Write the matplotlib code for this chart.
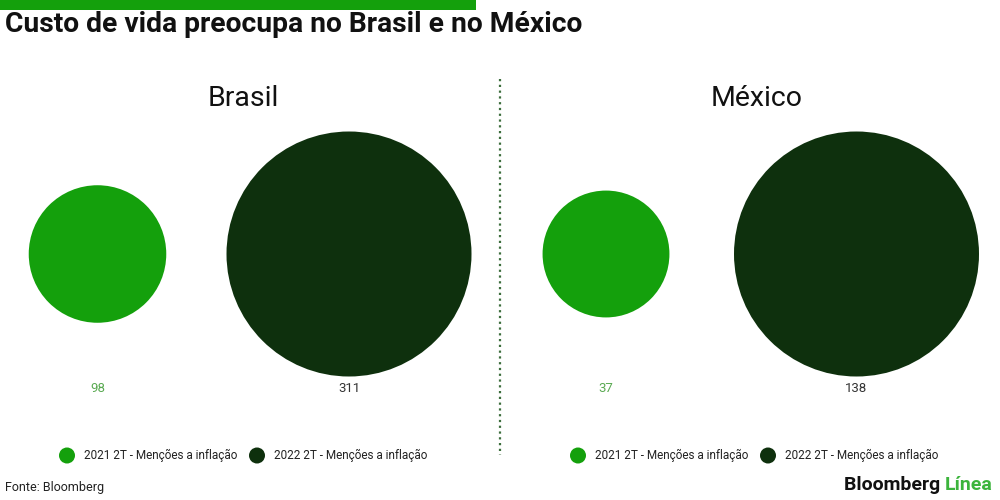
import matplotlib
matplotlib.use("Agg")
import matplotlib.pyplot as plt
from matplotlib.patches import Circle, Rectangle
import numpy as np

# ---- data ----
title = "Custo de vida preocupa no Brasil e no México"
panels = ["Brasil", "México"]
series = ["2021 2T - Menções a inflação", "2022 2T - Menções a inflação"]
brasil_values = [98, 311]
mexico_values = [37, 138]
source = "Fonte: Bloomberg"

LIGHT = "#14a00c"
DARK = "#0e300d"

fig = plt.figure(figsize=(10, 5), dpi=100)
ax = fig.add_axes([0, 0, 1, 1])
ax.set_xlim(0, 1000)
ax.set_ylim(500, 0)
ax.set_aspect("equal")
ax.axis("off")

# top green bar
ax.add_patch(Rectangle((0, 0), 476, 9.5, color=LIGHT, lw=0))

ax.text(5, 24, title, fontsize=20.3, fontweight="bold", family="Roboto",
        color="#111111", va="center", ha="left")

# dotted divider
ax.plot([500, 500], [79, 455], ls=(0, (1, 1.6)), color="#3d6e3d", lw=1.6)

RMAX = 122.5
layout = [
    dict(values=brasil_values, title_x=243, xs=[97.5, 349]),
    dict(values=mexico_values, title_x=757, xs=[606, 856.5]),
]
cy = 254
colors = [LIGHT, DARK]
label_colors = ["#5aaa52", "#333333"]

for name, lay in zip(panels, layout):
    vals = np.array(lay["values"], dtype=float)
    radii = RMAX * np.sqrt(vals / vals.max())
    ax.text(lay["title_x"], 99, name, fontsize=20.5, family="Roboto",
            fontweight="normal", color="#111111", ha="center", va="center")
    for x, r, v, c, lc in zip(lay["xs"], radii, lay["values"], colors, label_colors):
        ax.add_patch(Circle((x, cy), r, color=c, lw=0))
        ax.text(x, 388, f"{v}", fontsize=9.5, family="Roboto", color=lc,
                ha="center", va="center")

# legends
for lx in [67, 578]:
    for i, (lab, c) in enumerate(zip(series, colors)):
        cx = lx + i * 190
        ax.add_patch(Circle((cx, 455.5), 8, color=c, lw=0))
        ax.text(cx + 17, 455.5, lab, fontsize=8.5, family="Roboto",
                color="#222222", ha="left", va="center")

ax.text(5, 487, source, fontsize=9.0, family="Roboto", color="#222222",
        ha="left", va="center")

ax.text(945, 485, "Bloomberg ", fontsize=14, family="Roboto",
        fontweight="bold", color="#111111", ha="right", va="center")
ax.text(945, 485, "Línea", fontsize=14, family="Roboto", fontweight="bold",
        color="#3cb43c", ha="left", va="center")

fig.savefig("out.png", dpi=100)
